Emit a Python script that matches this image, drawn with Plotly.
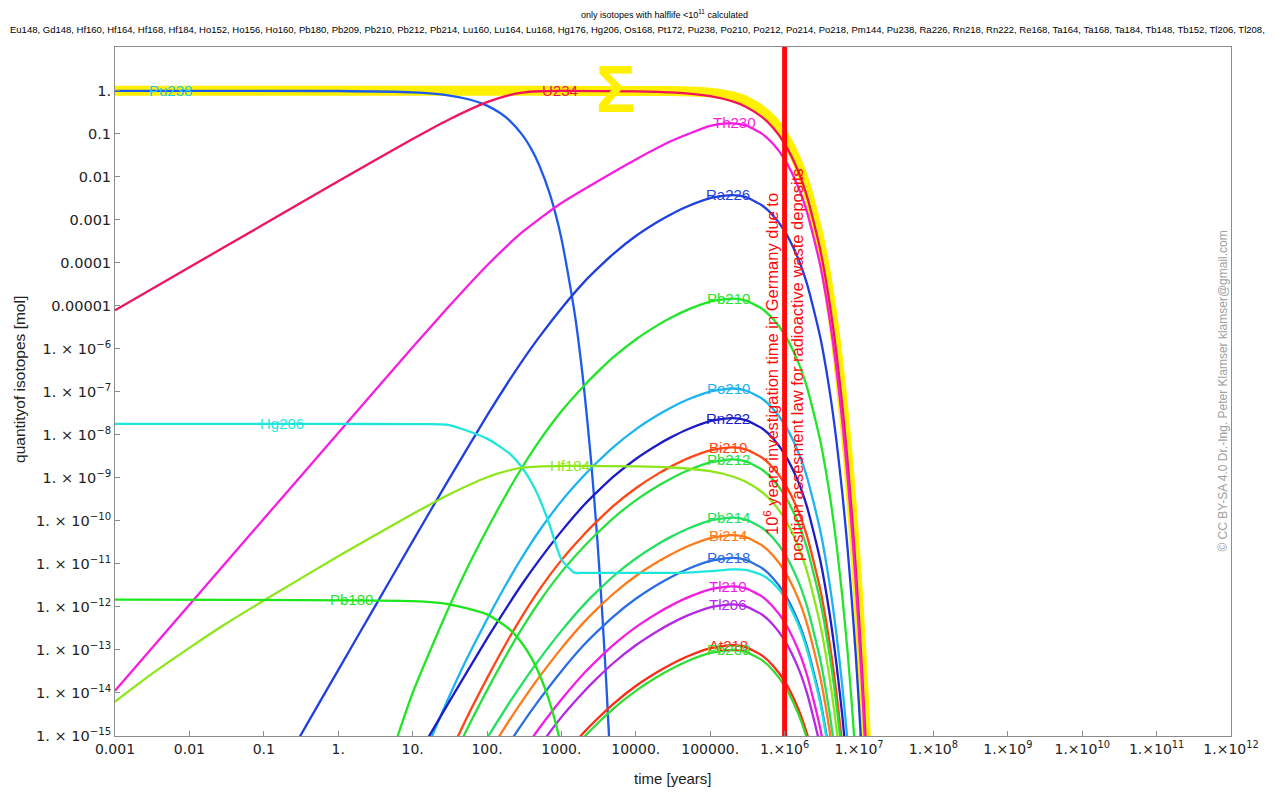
import plotly.graph_objects as go

# ---------------- data (time in years, quantity in mol) ----------------
t_sum = [0.001, 1e3, 1e4, 3e4, 1e5, 2e5, 3e5, 5e5, 7e5, 1e6, 1.5e6, 2e6, 3e6, 4e6, 5e6, 6e6, 7e6, 8e6, 9e6, 1e7, 1.1e7, 1.2e7, 1.3e7]
n_sum = [1, 1, 0.998, 0.987, 0.910, 0.748, 0.590, 0.347, 0.201, 0.0861, 0.0211, 5.14e-3, 3.05e-4, 1.82e-5, 1.08e-6, 6.41e-8, 3.83e-9, 2.25e-10, 1.35e-11, 7.94e-13, 4.68e-14, 2.82e-15, 1.66e-16]

t_pu238 = [0.001, 1, 10, 30, 60, 100, 150, 200, 300, 400, 500, 700, 1000, 1500, 2000, 2500, 3000, 3500, 4000, 4500]
n_pu238 = [1.0, 0.992, 0.924, 0.789, 0.622, 0.454, 0.305, 0.206, 0.0933, 0.0424, 0.0192, 3.96e-3, 3.70e-4, 7.11e-6, 1.37e-7, 2.63e-9, 5.06e-11, 9.73e-13, 1.87e-14, 3.60e-16]

t_u234 = [0.001, 0.01, 0.1, 1, 10, 30, 100, 200, 300, 500, 1000, 1e4, 3e4, 1e5, 2e5, 3e5, 5e5, 7e5, 1e6, 1.5e6, 2e6, 3e6, 4e6, 5e6, 6e6, 7e6, 8e6, 9e6, 1e7, 1.1e7, 1.2e7, 1.3e7]
n_u234 = [7.91e-6, 7.91e-5, 7.89e-4, 7.87e-3, 0.0760, 0.211, 0.546, 0.794, 0.906, 0.979, 0.997, 0.972, 0.919, 0.754, 0.569, 0.429, 0.244, 0.139, 0.0594, 0.0145, 3.53e-3, 2.10e-4, 1.25e-5, 7.41e-7, 4.41e-8, 2.63e-9, 1.55e-10, 9.33e-12, 5.50e-13, 3.24e-14, 1.95e-15, 1.15e-16]

t_th230 = [0.001, 0.01, 0.1, 1, 10, 30, 100, 300, 1000, 3000, 1e4, 3e4, 1e5, 1.5e5, 2e5, 3e5, 5e5, 7e5, 1e6, 1.5e6, 2e6, 3e6, 4e6, 5e6, 6e6, 7e6, 8e6, 9e6, 1e7, 1.1e7, 1.2e7, 1.3e7]
n_th230 = [1.12e-14, 1.12e-12, 1.12e-10, 1.11e-8, 1.09e-6, 9.27e-6, 8.71e-5, 5.25e-4, 2.47e-3, 7.73e-3, 0.0255, 0.0684, 0.153, 0.173, 0.176, 0.157, 0.100, 0.0589, 0.0255, 6.22e-3, 1.52e-3, 9.02e-5, 5.36e-6, 3.18e-7, 1.89e-8, 1.13e-9, 6.65e-11, 4.01e-12, 2.36e-13, 1.39e-14, 8.37e-16, 4.90e-17]

t_ra226 = [0.3, 0.5, 1, 3, 10, 30, 100, 200, 300, 500, 1000, 2000, 3000, 5000, 1e4, 2e4, 3e4, 5e4, 1e5, 2e5, 3e5, 5e5, 7e5, 1e6, 1.5e6, 2e6, 3e6, 4e6, 5e6, 6e6, 7e6, 8e6, 9e6, 1e7, 1.1e7]
n_ra226 = [9.2e-16, 4.27e-15, 3.41e-14, 9.18e-13, 3.35e-11, 8.69e-10, 2.81e-8, 1.87e-7, 5.36e-7, 1.85e-6, 8.75e-6, 3.53e-5, 7.14e-5, 1.63e-4, 4.22e-4, 9.18e-4, 1.36e-3, 2.08e-3, 3.21e-3, 3.76e-3, 3.37e-3, 2.16e-3, 1.26e-3, 5.48e-4, 1.34e-4, 3.26e-5, 1.94e-6, 1.15e-7, 6.84e-9, 4.06e-10, 2.43e-11, 1.43e-12, 8.61e-14, 5.07e-15, 2.99e-16]

t_rn222 = [10, 30, 100, 200, 300, 500, 1000, 2000, 3000, 5000, 1e4, 2e4, 3e4, 5e4, 1e5, 2e5, 3e5, 5e5, 7e5, 1e6, 1.5e6, 2e6, 3e6, 4e6, 5e6, 6e6, 7e6]
n_rn222 = [2.19e-16, 5.68e-15, 1.84e-13, 1.22e-12, 3.51e-12, 1.21e-11, 5.72e-11, 2.31e-10, 4.67e-10, 1.07e-9, 2.76e-9, 6.00e-9, 8.89e-9, 1.36e-8, 2.10e-8, 2.46e-8, 2.20e-8, 1.41e-8, 8.24e-9, 3.58e-9, 8.76e-10, 2.13e-10, 1.27e-11, 7.52e-13, 4.47e-14, 2.66e-15, 1.59e-16]

t_po218 = [100, 200, 300, 500, 1000, 2000, 3000, 5000, 1e4, 2e4, 3e4, 5e4, 1e5, 2e5, 3e5, 5e5, 7e5, 1e6, 1.5e6, 2e6, 3e6, 4e6]
n_po218 = [1.03e-16, 6.88e-16, 1.97e-15, 6.81e-15, 3.22e-14, 1.30e-13, 2.63e-13, 6.00e-13, 1.55e-12, 3.38e-12, 5.00e-12, 7.65e-12, 1.18e-11, 1.38e-11, 1.24e-11, 7.95e-12, 4.64e-12, 2.02e-12, 4.93e-13, 1.20e-13, 7.14e-15, 4.23e-16]

t_pb214 = [100, 200, 300, 500, 1000, 2000, 3000, 5000, 1e4, 2e4, 3e4, 5e4, 1e5, 2e5, 3e5, 5e5, 7e5, 1e6, 1.5e6, 2e6, 3e6, 4e6, 5e6]
n_pb214 = [8.94e-16, 5.95e-15, 1.70e-14, 5.88e-14, 2.78e-13, 1.12e-12, 2.27e-12, 5.18e-12, 1.34e-11, 2.92e-11, 4.32e-11, 6.61e-11, 1.02e-10, 1.20e-10, 1.07e-10, 6.87e-11, 4.01e-11, 1.74e-11, 4.26e-12, 1.04e-12, 6.17e-14, 3.66e-15, 2.18e-16]

t_bi214 = [100, 200, 300, 500, 1000, 2000, 3000, 5000, 1e4, 2e4, 3e4, 5e4, 1e5, 2e5, 3e5, 5e5, 7e5, 1e6, 1.5e6, 2e6, 3e6, 4e6, 5e6]
n_bi214 = [3.50e-16, 2.33e-15, 6.67e-15, 2.30e-14, 1.09e-13, 4.39e-13, 8.89e-13, 2.03e-12, 5.25e-12, 1.14e-11, 1.69e-11, 2.59e-11, 4.00e-11, 4.68e-11, 4.20e-11, 2.69e-11, 1.57e-11, 6.82e-12, 1.67e-12, 4.06e-13, 2.42e-14, 1.43e-15, 8.52e-17]

t_tl210 = [300, 500, 1000, 2000, 3000, 5000, 1e4, 2e4, 3e4, 5e4, 1e5, 2e5, 3e5, 5e5, 7e5, 1e6, 1.5e6, 2e6, 3e6, 4e6]
n_tl210 = [4.31e-16, 1.49e-15, 7.04e-15, 2.84e-14, 5.74e-14, 1.31e-13, 3.39e-13, 7.38e-13, 1.09e-12, 1.67e-12, 2.58e-12, 3.02e-12, 2.71e-12, 1.74e-12, 1.01e-12, 4.41e-13, 1.08e-13, 2.62e-14, 1.56e-15, 9.25e-17]

t_at218 = [1000, 2000, 3000, 5000, 1e4, 2e4, 3e4, 5e4, 1e5, 2e5, 3e5, 5e5, 7e5, 1e6, 1.5e6, 2e6, 3e6]
n_at218 = [3.00e-16, 1.21e-15, 2.45e-15, 5.59e-15, 1.45e-14, 3.15e-14, 4.66e-14, 7.13e-14, 1.10e-13, 1.29e-13, 1.16e-13, 7.41e-14, 4.32e-14, 1.88e-14, 4.60e-15, 1.12e-15, 6.65e-17]

t_pb210 = [6.3, 10, 20, 30, 50, 100, 200, 300, 500, 1000, 2000, 3000, 5000, 1e4, 2e4, 3e4, 5e4, 1e5, 2e5, 3e5, 5e5, 7e5, 1e6, 1.5e6, 2e6, 3e6, 4e6, 5e6, 6e6, 7e6, 8e6, 9e6]
n_pb210 = [1.0e-15, 1.0e-14, 1.78e-13, 8.91e-13, 6.03e-12, 6.31e-11, 5.62e-10, 1.82e-9, 7.08e-9, 3.55e-8, 1.38e-7, 2.81e-7, 6.42e-7, 1.66e-6, 3.62e-6, 5.36e-6, 8.20e-6, 1.26e-5, 1.48e-5, 1.33e-5, 8.51e-6, 4.96e-6, 2.16e-6, 5.28e-7, 1.28e-7, 7.64e-9, 4.53e-10, 2.69e-11, 1.60e-12, 9.57e-14, 5.63e-15, 3.39e-16]

t_po210 = [10, 20, 30, 50, 100, 200, 300, 500, 1000, 2000, 3000, 5000, 1e4, 2e4, 3e4, 5e4, 1e5, 2e5, 3e5, 5e5, 7e5, 1e6, 1.5e6, 2e6, 3e6, 4e6, 5e6, 6e6, 7e6, 8e6]
n_po210 = [8.13e-17, 1.45e-15, 7.24e-15, 4.90e-14, 5.13e-13, 4.57e-12, 1.48e-11, 5.76e-11, 2.89e-10, 1.12e-9, 2.28e-9, 5.22e-9, 1.35e-8, 2.94e-8, 4.36e-8, 6.67e-8, 1.02e-7, 1.20e-7, 1.08e-7, 6.92e-8, 4.03e-8, 1.76e-8, 4.29e-9, 1.04e-9, 6.21e-11, 3.68e-12, 2.19e-13, 1.30e-14, 7.78e-16, 4.58e-17]

t_bi210 = [30, 50, 100, 200, 300, 500, 1000, 2000, 3000, 5000, 1e4, 2e4, 3e4, 5e4, 1e5, 2e5, 3e5, 5e5, 7e5, 1e6, 1.5e6, 2e6, 3e6, 4e6, 5e6, 6e6]
n_bi210 = [3.09e-16, 2.09e-15, 2.19e-14, 1.95e-13, 6.32e-13, 2.46e-12, 1.23e-11, 4.79e-11, 9.75e-11, 2.23e-10, 5.76e-10, 1.26e-9, 1.86e-9, 2.85e-9, 4.37e-9, 5.14e-9, 4.62e-9, 2.95e-9, 1.72e-9, 7.50e-10, 1.83e-10, 4.44e-11, 2.65e-12, 1.57e-13, 9.33e-15, 5.55e-16]

t_pb212 = [30, 50, 100, 200, 300, 500, 1000, 2000, 3000, 5000, 1e4, 2e4, 3e4, 5e4, 1e5, 2e5, 3e5, 5e5, 7e5, 1e6, 1.5e6, 2e6, 3e6, 4e6, 5e6, 6e6]
n_pb212 = [1.62e-16, 1.10e-15, 1.15e-14, 1.02e-13, 3.31e-13, 1.29e-12, 6.46e-12, 2.51e-11, 5.11e-11, 1.17e-10, 3.02e-10, 6.59e-10, 9.76e-10, 1.49e-9, 2.29e-9, 2.69e-9, 2.42e-9, 1.55e-9, 9.03e-10, 3.93e-10, 9.61e-11, 2.33e-11, 1.39e-12, 8.24e-14, 4.90e-15, 2.91e-16]

t_tl206 = [300, 500, 1000, 2000, 3000, 5000, 1e4, 2e4, 3e4, 5e4, 1e5, 2e5, 3e5, 5e5, 7e5, 1e6, 1.5e6, 2e6, 3e6, 4e6]
n_tl206 = [1.41e-16, 5.49e-16, 2.75e-15, 1.07e-14, 2.18e-14, 4.98e-14, 1.29e-13, 2.81e-13, 4.16e-13, 6.36e-13, 9.78e-13, 1.15e-12, 1.03e-12, 6.60e-13, 3.85e-13, 1.68e-13, 4.10e-14, 9.93e-15, 5.93e-16, 3.52e-17]

t_pb209 = [1000, 2000, 3000, 5000, 1e4, 2e4, 3e4, 5e4, 1e5, 2e5, 3e5, 5e5, 7e5, 1e6, 1.5e6, 2e6, 3e6]
n_pb209 = [2.40e-16, 9.33e-16, 1.90e-15, 4.34e-15, 1.12e-14, 2.45e-14, 3.62e-14, 5.54e-14, 8.52e-14, 1.00e-13, 8.99e-14, 5.75e-14, 3.35e-14, 1.46e-14, 3.57e-15, 8.65e-16, 5.16e-17]

t_hg206 = [0.001, 1, 10, 30, 100, 200, 300, 400, 500, 700, 1000, 1500, 2000, 1e4, 5e4, 1e5, 2e5, 3e5, 5e5, 7e5, 1e6, 1.5e6, 2e6, 3e6, 4e6]
n_hg206 = [1.8e-8, 1.8e-8, 1.78e-8, 1.72e-8, 8.2e-9, 3.71e-9, 1.68e-9, 7.63e-10, 3.52e-10, 7.73e-11, 1.27e-11, 6.3e-12, 6.2e-12, 6.2e-12, 6.3e-12, 6.8e-12, 7.5e-12, 7.3e-12, 5.5e-12, 3.6e-12, 1.7e-12, 4.15e-13, 1.01e-13, 6.0e-15, 3.57e-16]

t_hf184 = [0.001, 0.00316, 0.01, 0.0316, 0.1, 1, 10, 30, 100, 200, 300, 1000, 1e4, 3e4, 1e5, 2e5, 3e5, 5e5, 7e5, 1e6, 1.5e6, 2e6, 3e6, 4e6, 5e6, 6e6]
n_hf184 = [6.31e-15, 2.82e-14, 1.12e-13, 4.17e-13, 1.41e-12, 1.51e-11, 1.45e-10, 4.02e-10, 1.04e-9, 1.51e-9, 1.73e-9, 1.90e-9, 1.85e-9, 1.75e-9, 1.44e-9, 1.08e-9, 8.17e-10, 4.65e-10, 2.65e-10, 1.13e-10, 2.76e-11, 6.72e-12, 4.0e-13, 2.38e-14, 1.41e-15, 8.4e-17]

t_pb180 = [0.001, 10, 30, 100, 200, 300, 400, 500, 600, 700, 800, 900, 1000, 1100]
n_pb180 = [1.48e-12, 1.37e-12, 1.17e-12, 6.72e-13, 3.05e-13, 1.38e-13, 6.28e-14, 2.84e-14, 1.29e-14, 5.86e-15, 2.66e-15, 1.21e-15, 5.48e-16, 2.49e-16]

deadline_years = 1e6  # investigation time marker

x_tickvals = [1e-3, 1e-2, 1e-1, 1, 10, 100, 1e3, 1e4, 1e5, 1e6, 1e7, 1e8, 1e9, 1e10, 1e11, 1e12]
x_ticktext = ["0.001", "0.01", "0.1", "1.", "10.", "100.", "1000.", "10000.", "100000.",
              "1.×10<sup>6</sup>", "1.×10<sup>7</sup>", "1.×10<sup>8</sup>", "1.×10<sup>9</sup>",
              "1.×10<sup>10</sup>", "1.×10<sup>11</sup>", "1.×10<sup>12</sup>"]
y_tickvals = [1, 1e-1, 1e-2, 1e-3, 1e-4, 1e-5, 1e-6, 1e-7, 1e-8, 1e-9, 1e-10, 1e-11, 1e-12, 1e-13, 1e-14, 1e-15]
y_ticktext = ["1.", "0.1", "0.01", "0.001", "0.0001", "0.00001"] + \
    ["1. × 10<sup>−%d</sup>" % k for k in range(6, 16)]

isotope_list = ("Eu148, Gd148, Hf160, Hf164, Hf168, Hf184, Ho152, Ho156, Ho160, Pb180, Pb209, Pb210, "
                "Pb212, Pb214, Lu160, Lu164, Lu168, Hg176, Hg206, Os168, Pt172, Pu238, Po210, Po212, "
                "Po214, Po218, Pm144, Pu238, Ra226, Rn218, Rn222, Re168, Ta164, Ta168, Ta184, Tb148, "
                "Tb152, Tl206, Tl208,")

# ---------------- styling ----------------
series = [
    # name, t, n, colour, label colour, label position (log10 x, log10 y)
    ("Pu238", t_pu238, n_pu238, "#1e5aeb", "#28c8f5", (-2.26, 0.0)),
    ("U234", t_u234, n_u234, "#f0145a", "#f0145a", (2.98, 0.0)),
    ("Th230", t_th230, n_th230, "#f81ce0", "#f81ce0", (5.33, -0.73)),
    ("Ra226", t_ra226, n_ra226, "#1f3fe0", "#1f3fe0", (5.24, -2.42)),
    ("Pb210", t_pb210, n_pb210, "#20e628", "#20e628", (5.24, -4.83)),
    ("Po210", t_po210, n_po210, "#1ab4f0", "#1ab4f0", (5.24, -6.92)),
    ("Rn222", t_rn222, n_rn222, "#1c1cc8", "#1c1cc8", (5.24, -7.61)),
    ("Bi210", t_bi210, n_bi210, "#ff4614", "#ff4614", (5.24, -8.29)),
    ("Pb212", t_pb212, n_pb212, "#28e040", "#28e040", (5.24, -8.57)),
    ("Pb214", t_pb214, n_pb214, "#22e060", "#22e060", (5.24, -9.92)),
    ("Bi214", t_bi214, n_bi214, "#ff7a1a", "#ff7a1a", (5.24, -10.33)),
    ("Po218", t_po218, n_po218, "#2a6ee6", "#2a6ee6", (5.24, -10.86)),
    ("Tl210", t_tl210, n_tl210, "#f21ee6", "#f21ee6", (5.24, -11.52)),
    ("Tl206", t_tl206, n_tl206, "#b428e6", "#b428e6", (5.24, -11.94)),
    ("At218", t_at218, n_at218, "#ff2a14", "#ff2a14", (5.24, -12.89)),
    ("Pb209", t_pb209, n_pb209, "#30dc30", "#30dc30", (5.24, -12.98)),
    ("Hg206", t_hg206, n_hg206, "#1ee6dc", "#1ee6dc", (-0.755, -7.74)),
    ("Hf184", t_hf184, n_hf184, "#8ce61a", "#8ce61a", (3.12, -8.72)),
    ("Pb180", t_pb180, n_pb180, "#1ee61e", "#1ee61e", (0.185, -11.83)),
]

LAB_FONT = "Liberation Sans, Arial, sans-serif"
fig = go.Figure()
fig.add_trace(go.Scatter(x=t_sum, y=n_sum, mode="lines", line=dict(color="#fff000", width=10, shape="spline", smoothing=0.6),
                         hoverinfo="skip"))
for name, t, n, col, lcol, pos in series:
    fig.add_trace(go.Scatter(x=t, y=n, mode="lines", name=name,
                             line=dict(color=col, width=2.3, shape="spline", smoothing=0.6), hoverinfo="skip"))

# 10^6 years marker
fig.add_trace(go.Scatter(x=[deadline_years, deadline_years], y=[1e-17, 1e3], mode="lines",
                         line=dict(color="#ff0a0a", width=5), hoverinfo="skip"))

ann = []
for name, t, n, col, lcol, pos in series:
    ann.append(dict(x=pos[0], y=pos[1], xref="x", yref="y", text=name, showarrow=False,
                    font=dict(family=LAB_FONT, size=15, color=lcol)))
ann.append(dict(x=3.73, y=0.05, xref="x", yref="y", text="<b>Σ</b>", showarrow=False,
                font=dict(family=LAB_FONT, size=66, color="#fff000")))
ann.append(dict(x=6, y=-6.36, xref="x", yref="y", xshift=-13, textangle=-90, showarrow=False,
                text="10<sup>6</sup> years investigation time in Germany due to",
                font=dict(family=LAB_FONT, size=16.5, color="#ff0a0a")))
ann.append(dict(x=6, y=-6.36, xref="x", yref="y", xshift=13, textangle=-90, showarrow=False,
                text="position assesment law for radioactive waste deposits",
                font=dict(family=LAB_FONT, size=16.5, color="#ff0a0a")))
# titles
ann.append(dict(x=0.4928, y=1.048, xref="paper", yref="paper", showarrow=False, xanchor="center", yanchor="middle",
                text="only isotopes with halflife &lt;10<sup>11</sup> calculated",
                font=dict(family=LAB_FONT, size=9, color="#000")))
ann.append(dict(x=-0.0959, y=1.0247, xref="paper", yref="paper", showarrow=False, xanchor="left", yanchor="middle",
                text=isotope_list, font=dict(family=LAB_FONT, size=9.5, color="#000")))
ann.append(dict(x=0.5, y=-0.061, xref="paper", yref="paper", showarrow=False, xanchor="center", yanchor="middle",
                text="time [years]", font=dict(family=LAB_FONT, size=15, color="#222")))
ann.append(dict(x=-0.085, y=0.517, xref="paper", yref="paper", showarrow=False, xanchor="center", yanchor="middle",
                textangle=-90, text="quantityof isotopes [mol]",
                font=dict(family=LAB_FONT, size=15.5, color="#222")))
ann.append(dict(x=0.992, y=0.50, xref="paper", yref="paper", showarrow=False, xanchor="center", yanchor="middle",
                textangle=-90, text="© CC BY-SA 4.0 Dr.-Ing. Peter Klamser klamser@gmail.com",
                font=dict(family=LAB_FONT, size=12, color="#a0a0a0")))

axis_common = dict(showgrid=False, zeroline=False, showline=True, linecolor="#8c8c8c", linewidth=1,
                   mirror=True, ticks="inside", ticklen=5, tickcolor="#8c8c8c")
fig.update_layout(
    # the page body adds an 8 px offset, so the figure is 8 px smaller and margins shifted
    width=1268, height=787, margin=dict(l=107, r=45, t=39, b=59),
    paper_bgcolor="white", plot_bgcolor="white", showlegend=False,
    xaxis=dict(type="log", range=[-3, 12], tickvals=x_tickvals, ticktext=x_ticktext,
               tickfont=dict(family="DejaVu Sans", size=14, color="#222"), **axis_common),
    yaxis=dict(type="log", range=[-15, 1.02], tickvals=y_tickvals, ticktext=y_ticktext,
               tickfont=dict(family="DejaVu Sans", size=14.5, color="#222"), **axis_common),
    annotations=ann,
)
fig.write_html("out.html")
